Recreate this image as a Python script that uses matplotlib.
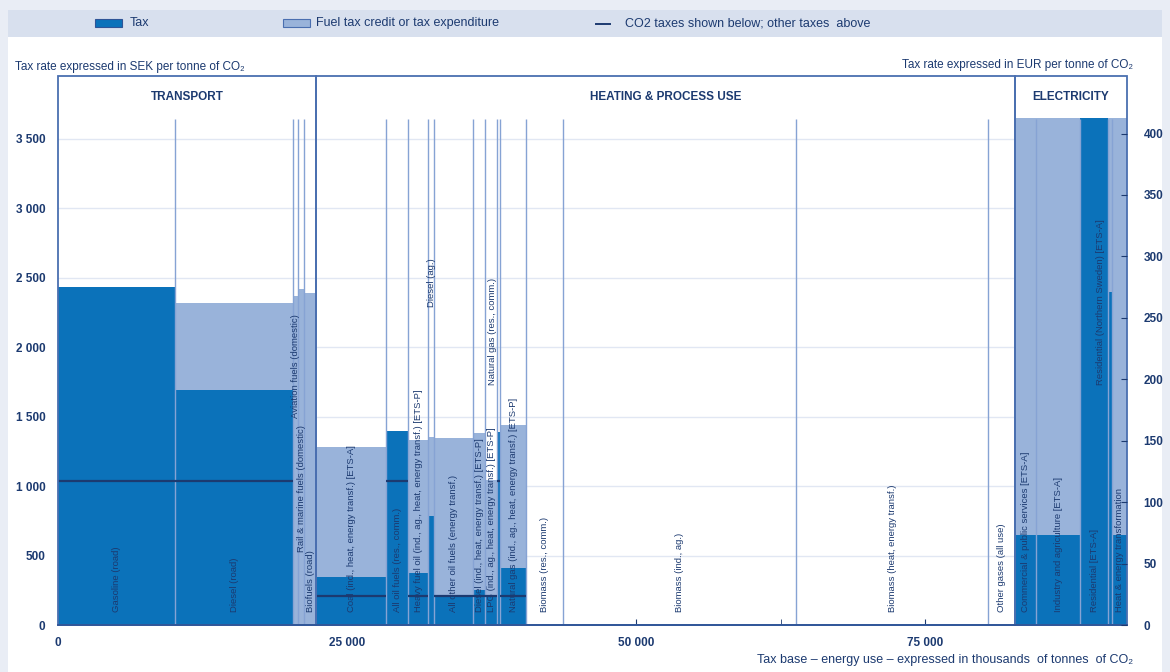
import matplotlib
matplotlib.use('Agg')
import matplotlib.pyplot as plt
from matplotlib import font_manager
from matplotlib.patches import Rectangle
from matplotlib.lines import Line2D
import numpy as np

names = {f.name for f in font_manager.fontManager.ttflist}
base = 'Liberation Sans Narrow' if 'Liberation Sans Narrow' in names else 'Liberation Sans'
plt.rcParams['font.family'] = [base, 'DejaVu Sans']

# ---------------- data ----------------
sections = ['TRANSPORT', 'HEATING & PROCESS USE', 'ELECTRICITY']
categories = [
    'Gasoline (road)', 'Diesel (road)', 'Aviation fuels (domestic)',
    'Rail & marine fuels (domestic)', 'Biofuels (road)',
    'Coal (ind., heat, energy transf.) [ETS-A]', 'All oil fuels (res., comm.)',
    'Heavy fuel oil (ind., ag., heat, energy transf.) [ETS-P]', 'Diesel (ag.)',
    'All other oil fuels (energy transf.)',
    'Diesel (ind., heat, energy transf.) [ETS-P]',
    'LPG (ind., ag., heat, energy transf.) [ETS-P]',
    'Natural gas (res., comm.)',
    'Natural gas (ind., ag., heat, energy transf.) [ETS-P]',
    'Biomass (res., comm.)', 'Biomass (ind., ag.)',
    'Biomass (heat, energy transf.)', 'Other gases (all use)',
    'Commercial & public services [ETS-A]', 'Industry and agriculture [ETS-A]',
    'Residential [ETS-A]', 'Residential (Northern Sweden) [ETS-A]',
    'Heat & energy transformation',
]
section_index = [0, 0, 0, 0, 0,
                 1, 1, 1, 1, 1, 1, 1, 1, 1, 1, 1, 1, 1,
                 2, 2, 2, 2, 2]
# tax base, thousands of tonnes of CO2
energy_use = [10120, 10210, 430, 520, 1040,
              6050, 1910, 1730, 520, 3370, 1040, 1040, 260, 2240,
              3210, 20150, 16610, 2340,
              1810, 3810, 2420, 350, 1290]
# SEK per tonne of CO2
tax_sek = [2430, 1690, 0, 0, 0,
           347, 1395, 374, 784, 215, 250, 200, 1390, 410,
           0, 0, 0, 0,
           650, 650, 3650, 2394, 650]
credit_sek = [0, 625, 2365, 2420, 2390,
              933, 0, 956, 566, 1133, 1130, 840, 0, 1028,
              0, 0, 0, 0,
              3000, 3000, 0, 1256, 3000]
co2_sek = [1035, 1035, 0, 0, 0,
           208, 1035, 208, 0, 208, 208, 208, 1035, 208,
           0, 0, 0, 0,
           0, 0, 0, 0, 0]
sek_per_eur = 8.84
left_ticks = [0, 500, 1000, 1500, 2000, 2500, 3000, 3500]
right_ticks = [0, 50, 100, 150, 200, 250, 300, 350, 400]
x_ticks = [0, 25000, 50000, 75000]

# label placement (style only)
label_y = {2: 1490, 3: 525, 8: 2290, 12: 1725, 21: 1725}
label_dx = {12: -560, 21: -860}

# ---------------- style ----------------
W, H = 1170, 672
DARK = '#0b72ba'
LIGHT = '#99b3da'
NAVY = '#1c3a70'
FRAME = '#4a6fb0'
SEP = '#86a3d4'
GRID = '#e1e7f3'

fig = plt.figure(figsize=(W / 100, H / 100), dpi=100)
fig.patch.set_facecolor('#e9edf5')
fig.add_artist(Rectangle((8 / W, 0), (1162 - 8) / W, 1 - 37 / H,
                         transform=fig.transFigure, facecolor='white', lw=0, zorder=0))
fig.add_artist(Rectangle((8 / W, 1 - 37 / H), (1162 - 8) / W, 27 / H,
                         transform=fig.transFigure, facecolor='#d8e0ee', lw=0, zorder=0))

ax = fig.add_axes([58 / W, 1 - 625 / H, (1127 - 58) / W, (625 - 76) / H])
ax.set_facecolor('none')

widths = np.array(energy_use, dtype=float)
rights = np.cumsum(widths)
lefts = rights - widths
total = rights[-1]
tax = np.array(tax_sek, dtype=float)
credit = np.array(credit_sek, dtype=float)
co2 = np.array(co2_sek, dtype=float)
sec = np.array(section_index)

ymax = 3950
ax.set_xlim(0, total)
ax.set_ylim(0, ymax)

ax.bar(lefts, tax, width=widths, align='edge', color=DARK, lw=0, zorder=2)
ax.bar(lefts, credit, bottom=tax, width=widths, align='edge', color=LIGHT, lw=0, zorder=2)

# separators between categories
inner = [i for i in range(len(widths) - 1) if sec[i] == sec[i + 1]]
ax.vlines(rights[inner], 0, 3640, color=SEP, lw=1, zorder=3)

# CO2 tax lines
m = co2 > 0
ax.hlines(co2[m], lefts[m], rights[m], color=NAVY, lw=1.6, zorder=4)

# section frames and headers
for s, name in enumerate(sections):
    idx = np.where(sec == s)[0]
    x0, x1 = lefts[idx[0]], rights[idx[-1]]
    ax.add_patch(Rectangle((x0, 0), x1 - x0, ymax, fill=False, edgecolor=FRAME,
                           lw=1.3, zorder=5, clip_on=False))
    ax.text((x0 + x1) / 2, 3800, name, ha='center', va='center', fontsize=8.5,
            fontweight='bold', color=NAVY, zorder=6)

# category labels
for i, name in enumerate(categories):
    xc = (lefts[i] + rights[i]) / 2 + label_dx.get(i, 0)
    ax.text(xc, label_y.get(i, 90), name, rotation=90, ha='center', va='bottom',
            fontsize=6.8, color=NAVY, zorder=6)

# axes styling
for sp in ['top', 'left', 'right']:
    ax.spines[sp].set_visible(False)
ax.spines['bottom'].set_color('#2f5597')
ax.spines['bottom'].set_linewidth(1.3)
ax.spines['bottom'].set_zorder(6)

ax.set_yticks(left_ticks)
ax.set_yticklabels([f'{v:,}'.replace(',', ' ') for v in left_ticks],
                   fontweight='bold', fontsize=8.5, color=NAVY)
ax.tick_params(axis='y', length=0, pad=9)
ax.yaxis.grid(True, color=GRID, lw=1, zorder=0)
ax.set_axisbelow(True)

ax.set_xticks(x_ticks)
ax.set_xticks(np.arange(0, total, 12500), minor=True)
ax.set_xticklabels([f'{v:,}'.replace(',', ' ') for v in x_ticks],
                   fontweight='bold', fontsize=8.5, color=NAVY)
ax.tick_params(axis='x', which='both', direction='in', length=4, color=NAVY, pad=9)

ax2 = ax.twinx()
ax2.set_ylim(0, ymax / sek_per_eur)
ax2.set_yticks(right_ticks)
ax2.set_yticklabels([str(v) for v in right_ticks], fontweight='bold', fontsize=8.5, color=NAVY)
ax2.tick_params(axis='y', direction='in', length=4, color=NAVY, pad=12)
for sp in ax2.spines.values():
    sp.set_visible(False)

# axis titles
fig.text(15 / W, 1 - 67 / H, 'Tax rate expressed in SEK per tonne of CO\u2082',
         ha='left', va='center', fontsize=8.5, color=NAVY)
fig.text(1133 / W, 1 - 65 / H, 'Tax rate expressed in EUR per tonne of CO\u2082',
         ha='right', va='center', fontsize=8.5, color=NAVY)
fig.text(1133 / W, 1 - 660 / H,
         'Tax base \u2013 energy use \u2013 expressed in thousands  of tonnes  of CO\u2082',
         ha='right', va='center', fontsize=9, color=NAVY)

# legend
fig.add_artist(Rectangle((95 / W, 1 - 27 / H), 27 / W, 8 / H, transform=fig.transFigure,
                         facecolor=DARK, edgecolor='#2f5597', lw=0.8))
fig.text(130 / W, 1 - 23 / H, 'Tax', ha='left', va='center', fontsize=9, color=NAVY)
fig.add_artist(Rectangle((283 / W, 1 - 27 / H), 27 / W, 8 / H, transform=fig.transFigure,
                         facecolor=LIGHT, edgecolor='#4a6fb0', lw=0.8))
fig.text(316 / W, 1 - 23 / H, 'Fuel tax credit or tax expenditure', ha='left', va='center',
         fontsize=9, color=NAVY)
fig.add_artist(Line2D([596 / W, 610 / W], [1 - 24 / H, 1 - 24 / H], transform=fig.transFigure,
                      color=NAVY, lw=1.4))
fig.text(625 / W, 1 - 23 / H, 'CO2 taxes shown below; other taxes  above', ha='left',
         va='center', fontsize=9, color=NAVY)

fig.savefig('out.png', dpi=100, facecolor=fig.get_facecolor())
